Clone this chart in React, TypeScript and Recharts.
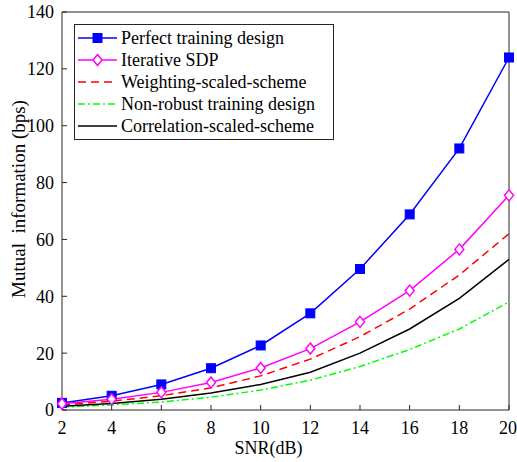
import React from "react";
import { LineChart, Line, XAxis, YAxis, Legend } from "recharts";

const SNR = [2, 4, 6, 8, 10, 12, 14, 16, 18, 20];
const PERFECT = [2.5, 5, 9, 14.7, 22.7, 34, 49.6, 68.8, 92, 124];
const ITERATIVE = [2.2, 3.8, 6.2, 9.7, 14.8, 21.6, 31, 42, 56.5, 75.5];
const WEIGHTING = [1.8, 3.1, 5, 7.8, 12, 17.9, 25.8, 35.5, 47.5, 62];
const NONROBUST = [1, 1.8, 2.8, 4.5, 7, 10.5, 15.3, 21.3, 28.5, 38];
const CORRELATION = [1.3, 2.3, 3.8, 6, 9, 13.3, 20, 28.5, 39.3, 53];

const X_TICKS = [2, 4, 6, 8, 10, 12, 14, 16, 18, 20];
const Y_TICKS = [0, 20, 40, 60, 80, 100, 120, 140];

const data = SNR.map((snr, i) => ({
  snr,
  perfect: PERFECT[i],
  iterative: ITERATIVE[i],
  weighting: WEIGHTING[i],
  nonrobust: NONROBUST[i],
  correlation: CORRELATION[i],
}));

const FONT = "'Liberation Serif', 'Times New Roman', serif";
const AXIS = "#262626";

type Marker = "square" | "diamond" | null;

const SERIES: { key: string; name: string; color: string; dash?: string; marker: Marker }[] = [
  { key: "perfect", name: "Perfect training design", color: "#0000ff", marker: "square" },
  { key: "iterative", name: "Iterative SDP", color: "#ff00ff", marker: "diamond" },
  { key: "weighting", name: "Weighting-scaled-scheme", color: "#ff0000", dash: "8 5", marker: null },
  { key: "nonrobust", name: "Non-robust training design", color: "#00ff00", dash: "7 3 2 3", marker: null },
  { key: "correlation", name: "Correlation-scaled-scheme", color: "#000000", marker: null },
];

function drawMarker(kind: Marker, cx: number, cy: number, color: string, key?: React.Key) {
  if (kind === "square") {
    return <rect key={key} x={cx - 4.5} y={cy - 4.5} width={9} height={9} fill={color} stroke={color} />;
  }
  if (kind === "diamond") {
    return (
      <path
        key={key}
        d={`M${cx},${cy - 5.5} L${cx + 4.5},${cy} L${cx},${cy + 5.5} L${cx - 4.5},${cy} Z`}
        fill="#fff"
        stroke={color}
        strokeWidth={1.5}
      />
    );
  }
  return <g key={key} />;
}

function LegendBox() {
  return (
    <svg width={260} height={116} style={{ display: "block" }}>
      <rect x={0.5} y={0.5} width={259} height={115} fill="#fff" stroke={AXIS} strokeWidth={1} />
      {SERIES.map((s, i) => {
        const cy = 14 + i * 22;
        return (
          <g key={s.key}>
            <line x1={4} x2={43} y1={cy} y2={cy} stroke={s.color} strokeWidth={1.5} strokeDasharray={s.dash} />
            {drawMarker(s.marker, 23.5, cy, s.color)}
            <text x={47} y={cy + 6} fontSize={18} fontFamily={FONT} fill="#000">
              {s.name}
            </text>
          </g>
        );
      })}
    </svg>
  );
}

export default function App() {
  return (
    <div style={{ position: "absolute", left: 0, top: 0, background: "#fff" }}>
      <LineChart width={517} height={462} data={data} margin={{ top: 0, right: 0, bottom: 0, left: 0 }}>
        <XAxis
          dataKey="snr"
          type="number"
          domain={[2, 20]}
          ticks={X_TICKS}
          height={52}
          stroke={AXIS}
          tickSize={-5}
          tickMargin={16}
          tick={{ fontSize: 18, fontFamily: FONT, fill: "#000" }}
          label={{ value: "SNR(dB)", position: "center", dx: -17, dy: 12, fontSize: 18, fontFamily: FONT, fill: "#000" }}
        />
        <XAxis
          xAxisId="top"
          dataKey="snr"
          type="number"
          orientation="top"
          domain={[2, 20]}
          ticks={X_TICKS}
          height={12}
          stroke={AXIS}
          tickSize={-5}
          tick={false}
        />
        <YAxis
          domain={[0, 140]}
          ticks={Y_TICKS}
          width={62}
          stroke={AXIS}
          tickSize={-5}
          tickMargin={13}
          tick={{ fontSize: 18, fontFamily: FONT, fill: "#000" }}
          label={{
            value: "Mutual\u00a0 information (bps)",
            angle: -90,
            position: "center",
            dx: -13,
            dy: -12,
            fontSize: 19,
            fontFamily: FONT,
            fill: "#000",
          }}
        />
        <YAxis
          yAxisId="right"
          orientation="right"
          domain={[0, 140]}
          ticks={Y_TICKS}
          width={8}
          stroke={AXIS}
          tickSize={-5}
          tick={false}
        />
        <Legend
          layout="horizontal"
          verticalAlign="middle"
          align="center"
          content={() => <LegendBox />}
          wrapperStyle={{ left: 74, top: 24, width: 260, height: 116 }}
        />
        {SERIES.map((s) => (
          <Line
            key={s.key}
            dataKey={s.key}
            name={s.name}
            type="linear"
            stroke={s.color}
            strokeWidth={1.5}
            strokeDasharray={s.dash}
            isAnimationActive={false}
            dot={s.marker ? (p: any) => drawMarker(s.marker, p.cx, p.cy, s.color, p.index) : false}
            activeDot={false}
          />
        ))}
      </LineChart>
    </div>
  );
}
